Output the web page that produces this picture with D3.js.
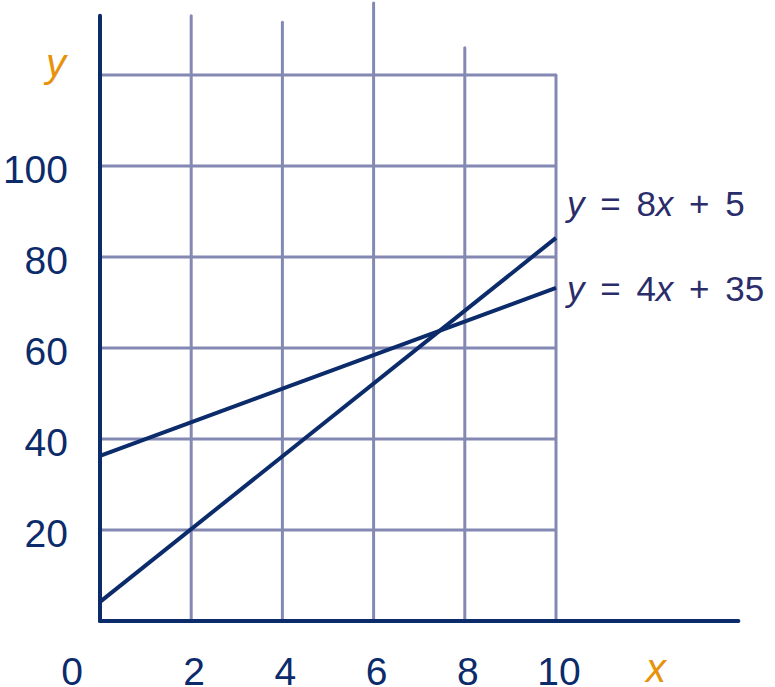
<!DOCTYPE html>
<html>
<head>
<meta charset="utf-8">
<script src="https://cdn.jsdelivr.net/npm/d3@7/dist/d3.min.js"></script>
<style>
  html, body { margin: 0; padding: 0; background: #fff; }
  svg { display: block; }
</style>
</head>
<body>
<svg id="chart" width="775" height="687"></svg>
<script>
// ---- data ----
const xTicks = [2, 4, 6, 8, 10];
const xTickLabels = ["0", "2", "4", "6", "8", "10"];
const xTickValues = [0, 2, 4, 6, 8, 10];
const yTicks = [20, 40, 60, 80, 100, 120];
const yTickLabels = ["20", "40", "60", "80", "100"];
const yTickValues = [20, 40, 60, 80, 100];
// top (in y units) of each vertical grid line, as drawn
const gridTops = [133, 131.6, 135.8, 126, 120];
const yAxisTop = 133;
const xAxisEnd = 14;
const lineNames = ["y = 8x + 5", "y = 4x + 35"];
const line1X = [0, 10];
const line1Y = [4.2, 84.2];
const line2X = [0, 10];
const line2Y = [36.3, 73.2];

// ---- scales ----
const x = d3.scaleLinear().domain([0, 10]).range([100, 556]);
const y = d3.scaleLinear().domain([0, 120]).range([621, 75]);

const svg = d3.select("#chart");
const navy = "#0c2b6b";
const gridC = "#8489b3";
const textC = "#2b2c6a";
const orange = "#e8920c";
const fontF = "Liberation Sans, Arial, sans-serif";

// horizontal grid lines
svg.append("g").selectAll("line").data(yTicks).join("line")
  .attr("x1", x(0)).attr("x2", x(10))
  .attr("y1", d => y(d)).attr("y2", d => y(d))
  .attr("stroke", gridC).attr("stroke-width", 3);

// vertical grid lines
svg.append("g").selectAll("line").data(xTicks).join("line")
  .attr("x1", d => x(d)).attr("x2", d => x(d))
  .attr("y1", y(0)).attr("y2", (d, i) => y(gridTops[i]))
  .attr("stroke", gridC).attr("stroke-width", 3)
  .attr("stroke-linecap", "round");

// axes
svg.append("line")
  .attr("x1", x(0)).attr("x2", x(0))
  .attr("y1", y(0)).attr("y2", y(yAxisTop))
  .attr("stroke", navy).attr("stroke-width", 4).attr("stroke-linecap", "round");
svg.append("line")
  .attr("x1", x(0)).attr("x2", x(xAxisEnd))
  .attr("y1", y(0)).attr("y2", y(0))
  .attr("stroke", navy).attr("stroke-width", 4).attr("stroke-linecap", "round");

// data lines
const lineGen = d3.line().x(d => x(d[0])).y(d => y(d[1]));
const series = [
  d3.zip(line1X, line1Y),
  d3.zip(line2X, line2Y)
];
svg.append("g").selectAll("path").data(series).join("path")
  .attr("d", lineGen)
  .attr("fill", "none").attr("stroke", navy).attr("stroke-width", 4);

// y tick labels
svg.append("g").selectAll("text").data(yTickValues).join("text")
  .attr("x", 68).attr("y", d => y(d) + 3)
  .attr("dy", "0.35em")
  .attr("text-anchor", "end")
  .attr("font-family", fontF).attr("font-size", 39)
  .attr("fill", navy)
  .text((d, i) => yTickLabels[i]);

// x tick labels
svg.append("g").selectAll("text").data(xTickValues).join("text")
  .attr("x", d => d === 0 ? 72 : x(d) + 3)
  .attr("y", 685)
  .attr("text-anchor", "middle")
  .attr("font-family", fontF).attr("font-size", 39)
  .attr("fill", navy)
  .text((d, i) => xTickLabels[i]);

// axis titles
svg.append("text")
  .attr("x", 56).attr("y", 77)
  .attr("text-anchor", "middle")
  .attr("font-family", fontF).attr("font-size", 40).attr("font-style", "italic")
  .attr("fill", orange).text("y");
svg.append("text")
  .attr("x", 656).attr("y", 682)
  .attr("text-anchor", "middle")
  .attr("font-family", fontF).attr("font-size", 40).attr("font-style", "italic")
  .attr("fill", orange).text("x");

// equation labels
function eqLabel(txt, yy) {
  const t = svg.append("text")
    .attr("x", 567).attr("y", yy)
    .attr("font-family", fontF).attr("font-size", 35)
    .attr("word-spacing", 6)
    .attr("fill", textC);
  const m = txt.match(/^y = (\d+)x \+ (\d+)$/);
  t.append("tspan").attr("font-style", "italic").text("y");
  t.append("tspan").text(" = " + m[1]);
  t.append("tspan").attr("font-style", "italic").text("x");
  t.append("tspan").text(" + " + m[2]);
}
eqLabel(lineNames[0], 216);
eqLabel(lineNames[1], 301);
</script>
</body>
</html>
